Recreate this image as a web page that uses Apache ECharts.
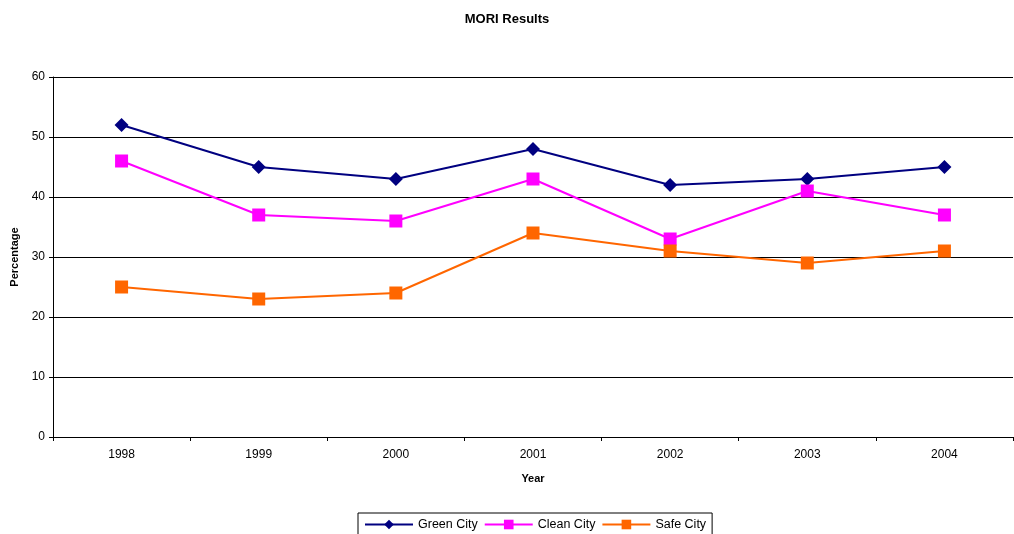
<!DOCTYPE html>
<html>
<head>
<meta charset="utf-8">
<script src="https://cdn.jsdelivr.net/npm/echarts@6/dist/echarts.min.js"></script>
<style>
  html, body {margin: 0; padding: 0; background: #fff;}
  #main {width: 1014px; height: 534px;}
</style>
</head>
<body>
<div id="main"></div>
<script>
const years = ['1998', '1999', '2000', '2001', '2002', '2003', '2004']
const greenCity = [52, 45, 43, 48, 42, 43, 45]
const cleanCity = [46, 37, 36, 43, 33, 41, 37]
const safeCity = [25, 23, 24, 34, 31, 29, 31]

const font = 'Liberation Sans, Arial, sans-serif'

const chart = echarts.init(document.getElementById('main'))

/** 一条折线 */
function line(name, data, color, symbol, size) {
  return {
    name,
    type: 'line',
    data,
    symbol,
    symbolSize: size,
    lineStyle: {color, width: 2},
    itemStyle: {color},
  }
}

chart.setOption({
  animation: false,
  title: {
    text: 'MORI Results',
    left: 'center',
    top: 8,
    textStyle: {fontFamily: font, fontSize: 13, fontWeight: 'bold', color: '#000'},
  },
  grid: {left: 53, right: 1, top: 77, bottom: 97, outerBoundsMode: 'none'},
  legend: {
    top: 513,
    left: 358,
    itemWidth: 48,
    itemHeight: 12,
    itemGap: 6,
    padding: [5, 6, 8, 6],
    borderColor: '#000',
    borderWidth: 1,
    borderRadius: 0,
    textStyle: {fontFamily: font, fontSize: 12.5, color: '#000'},
    data: ['Green City', 'Clean City', 'Safe City'],
  },
  xAxis: {
    type: 'category',
    data: years,
    name: 'Year',
    nameLocation: 'middle',
    nameGap: 36,
    nameTextStyle: {fontFamily: font, fontSize: 11, fontWeight: 'bold', color: '#000'},
    axisLine: {lineStyle: {color: '#000', width: 1}},
    axisTick: {show: true, length: 4, lineStyle: {color: '#000'}},
    axisLabel: {fontFamily: font, fontSize: 12, color: '#000', margin: 12},
  },
  yAxis: {
    type: 'value',
    min: 0,
    max: 60,
    interval: 10,
    name: 'Percentage',
    nameLocation: 'middle',
    nameGap: 32,
    nameTextStyle: {fontFamily: font, fontSize: 11, fontWeight: 'bold', color: '#000'},
    axisLine: {show: true, lineStyle: {color: '#000', width: 1}},
    axisTick: {show: true, length: 4, lineStyle: {color: '#000'}},
    axisLabel: {fontFamily: font, fontSize: 12, color: '#000', margin: 8},
    splitLine: {lineStyle: {color: '#000', width: 1}},
  },
  series: [
    line('Green City', greenCity, '#000080', 'diamond', 14),
    line('Clean City', cleanCity, '#FF00FF', 'rect', 13),
    line('Safe City', safeCity, '#FF6600', 'rect', 13),
  ],
})
</script>
</body>
</html>
